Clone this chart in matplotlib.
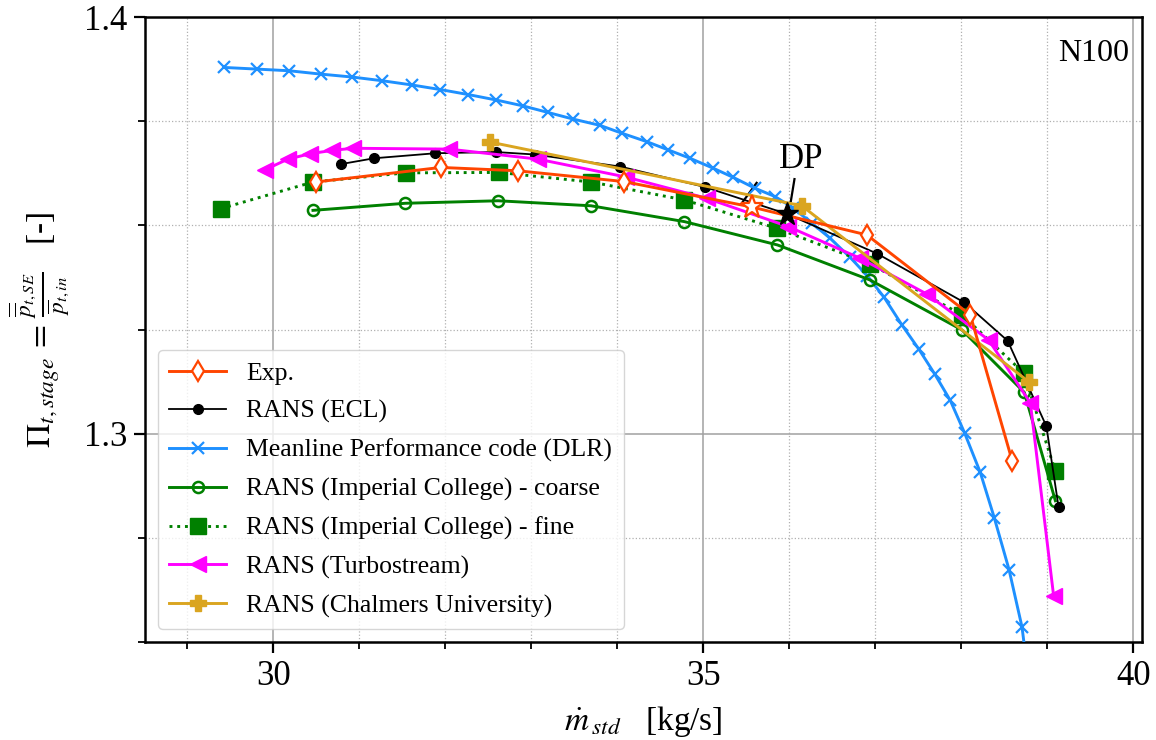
import numpy as np
import matplotlib
matplotlib.use("Agg")
import matplotlib.pyplot as plt
from matplotlib.ticker import MultipleLocator

plt.rcParams["font.family"] = ["Liberation Serif", "DejaVu Serif"]
plt.rcParams["mathtext.fontset"] = "stix"

# mass flow [kg/s] / total pressure ratio [-]
exp_m = [30.494, 31.949, 32.841, 34.082, 35.564, 36.902, 38.104, 38.592]
exp_pi = [1.3604, 1.3639, 1.3631, 1.3605, 1.3544, 1.3477, 1.3285, 1.2934]

ecl_m = [30.789, 31.173, 31.883, 32.589, 33.042, 34.037, 35.020, 35.978,
         37.022, 38.034, 38.538, 38.988, 39.131]
ecl_pi = [1.3647, 1.3661, 1.3673, 1.3676, 1.3670, 1.3641, 1.3592, 1.3527,
          1.3432, 1.3315, 1.3223, 1.3018, 1.2823]

dlr_m = [29.428, 29.812, 30.188, 30.553, 30.917, 31.271, 31.611, 31.941,
         32.266, 32.589, 32.899, 33.194, 33.488, 33.799, 34.055, 34.342,
         34.593, 34.846, 35.117, 35.350, 35.602, 35.835, 36.044, 36.262,
         36.475, 36.708, 36.906, 37.103, 37.309, 37.502, 37.688, 37.871,
         38.037, 38.220, 38.383, 38.554, 38.705, 38.80]
dlr_pi = [1.3879, 1.3875, 1.3871, 1.3863, 1.3856, 1.3847, 1.3837, 1.3826,
          1.3814, 1.3801, 1.3787, 1.3771, 1.3755, 1.3740, 1.3721, 1.3701,
          1.3681, 1.3661, 1.3637, 1.3615, 1.3589, 1.3569, 1.3542, 1.3505,
          1.3469, 1.3423, 1.3379, 1.3327, 1.3261, 1.3204, 1.3144, 1.3080,
          1.3002, 1.2907, 1.2798, 1.2674, 1.2536, 1.2380]

ic_coarse_m = [30.463, 31.538, 32.615, 33.694, 34.780, 35.862, 36.937,
               38.007, 38.732, 39.093]
ic_coarse_pi = [1.3536, 1.3553, 1.3559, 1.3547, 1.3509, 1.3453, 1.3369,
                1.3249, 1.3099, 1.2839]

ic_fine_m = [29.389, 30.463, 31.542, 32.620, 33.698, 34.780, 35.855,
             36.937, 38.007, 38.724, 39.093]
ic_fine_pi = [1.3540, 1.3604, 1.3626, 1.3627, 1.3604, 1.3561, 1.3493,
              1.3408, 1.3285, 1.3146, 1.2910]

turbo_m = [29.901, 30.172, 30.433, 30.689, 30.928, 32.045, 33.077, 34.101,
           35.040, 35.989, 36.824, 37.600, 38.317, 38.802, 39.073]
turbo_pi = [1.3633, 1.3659, 1.3672, 1.3680, 1.3685, 1.3683, 1.3659, 1.3616,
            1.3565, 1.3497, 1.3421, 1.3335, 1.3225, 1.3074, 1.2610]

chalmers_m = [32.519, 36.145, 38.782]
chalmers_pi = [1.3700, 1.3547, 1.3125]

# design point index in the Exp. and ECL series
exp_dp = 4
ecl_dp = 7

fig = plt.figure(figsize=(11.56, 7.4), dpi=100)
ax = fig.add_axes([0.1254, 0.1324, 0.8625, 0.8446])

ax.plot(exp_m, exp_pi, color="orangered", lw=2.1, marker="d", ms=10,
        mfc="white", mew=1.6, zorder=6,
        markevery=[i for i in range(len(exp_m)) if i != exp_dp], label="Exp.")
ax.plot(ecl_m, ecl_pi, color="black", lw=1.3, marker="o", ms=7,
        zorder=4,
        markevery=[i for i in range(len(ecl_m)) if i != ecl_dp], label="RANS (ECL)")
ax.plot(dlr_m, dlr_pi, color="dodgerblue", lw=2.1, marker="x", ms=9, mew=1.6,
        zorder=3, label="Meanline Performance code (DLR)")
ax.plot(ic_coarse_m, ic_coarse_pi, color="green", lw=2.1, marker="o", ms=8,
        mfc="none", mew=1.8, zorder=3,
        label="RANS (Imperial College) - coarse")
ax.plot(ic_fine_m, ic_fine_pi, color="green", lw=2.1, ls=":", marker="s",
        ms=11, zorder=3, label="RANS (Imperial College) - fine")
ax.plot(turbo_m, turbo_pi, color="magenta", lw=2.1, marker="<", ms=11,
        zorder=4, label="RANS (Turbostream)")
ax.plot(chalmers_m, chalmers_pi, color="goldenrod", lw=2.1, marker="P",
        ms=12, zorder=5, label="RANS (Chalmers University)")

# design point stars
ax.plot(exp_m[exp_dp], exp_pi[exp_dp], marker="*", ms=17, mfc="white",
        mec="orangered", mew=1.6, ls="none", zorder=7)
ax.plot(ecl_m[ecl_dp], ecl_pi[ecl_dp], marker="*", ms=17, color="black",
        ls="none", zorder=7)
ax.text(36.14, 1.3657, "DP", fontsize=25, ha="center", va="center")
ax.plot([35.44, 35.62], [1.3551, 1.3602], color="black", lw=1.6)
ax.plot([36.06, 36.018], [1.3611, 1.3558], color="black", lw=1.6)

ax.text(0.987, 0.965, "N100", transform=ax.transAxes, fontsize=23,
        ha="right", va="top")

ax.set_xlim(28.51, 40.1)
ax.set_ylim(1.25, 1.4)
ax.xaxis.set_major_locator(MultipleLocator(5))
ax.xaxis.set_minor_locator(MultipleLocator(1))
ax.yaxis.set_major_locator(MultipleLocator(0.1))
ax.yaxis.set_minor_locator(MultipleLocator(0.025))
ax.yaxis.set_major_formatter(plt.FuncFormatter(lambda v, p: f"{v:.1f}"))

ax.grid(which="major", color="#a0a0a0", lw=1.1, ls="-")
ax.grid(which="minor", color="#b0b0b0", lw=0.9, ls=":")
ax.set_axisbelow(True)

for s in ax.spines.values():
    s.set_linewidth(1.8)
ax.tick_params(which="major", direction="out", length=8, width=1.6,
               labelsize=25, pad=5)
ax.tick_params(which="minor", direction="out", length=5, width=1.3)

ax.set_xlabel(r"$\dot{m}_{\,std}$   [kg/s]", fontsize=24, labelpad=8)
ax.set_ylabel(r"$\Pi_{t,stage}\,=\,\frac{\overline{\overline{p}}_{t,SE}}"
              r"{\overline{p}_{t,in}}$   [-]", fontsize=24, labelpad=8)

ax.legend(loc="lower left", fontsize=18.5, handlelength=2.2,
          borderaxespad=0.5, labelspacing=0.6, framealpha=0.8,
          borderpad=0.45)

fig.savefig("out.png", dpi=100)
